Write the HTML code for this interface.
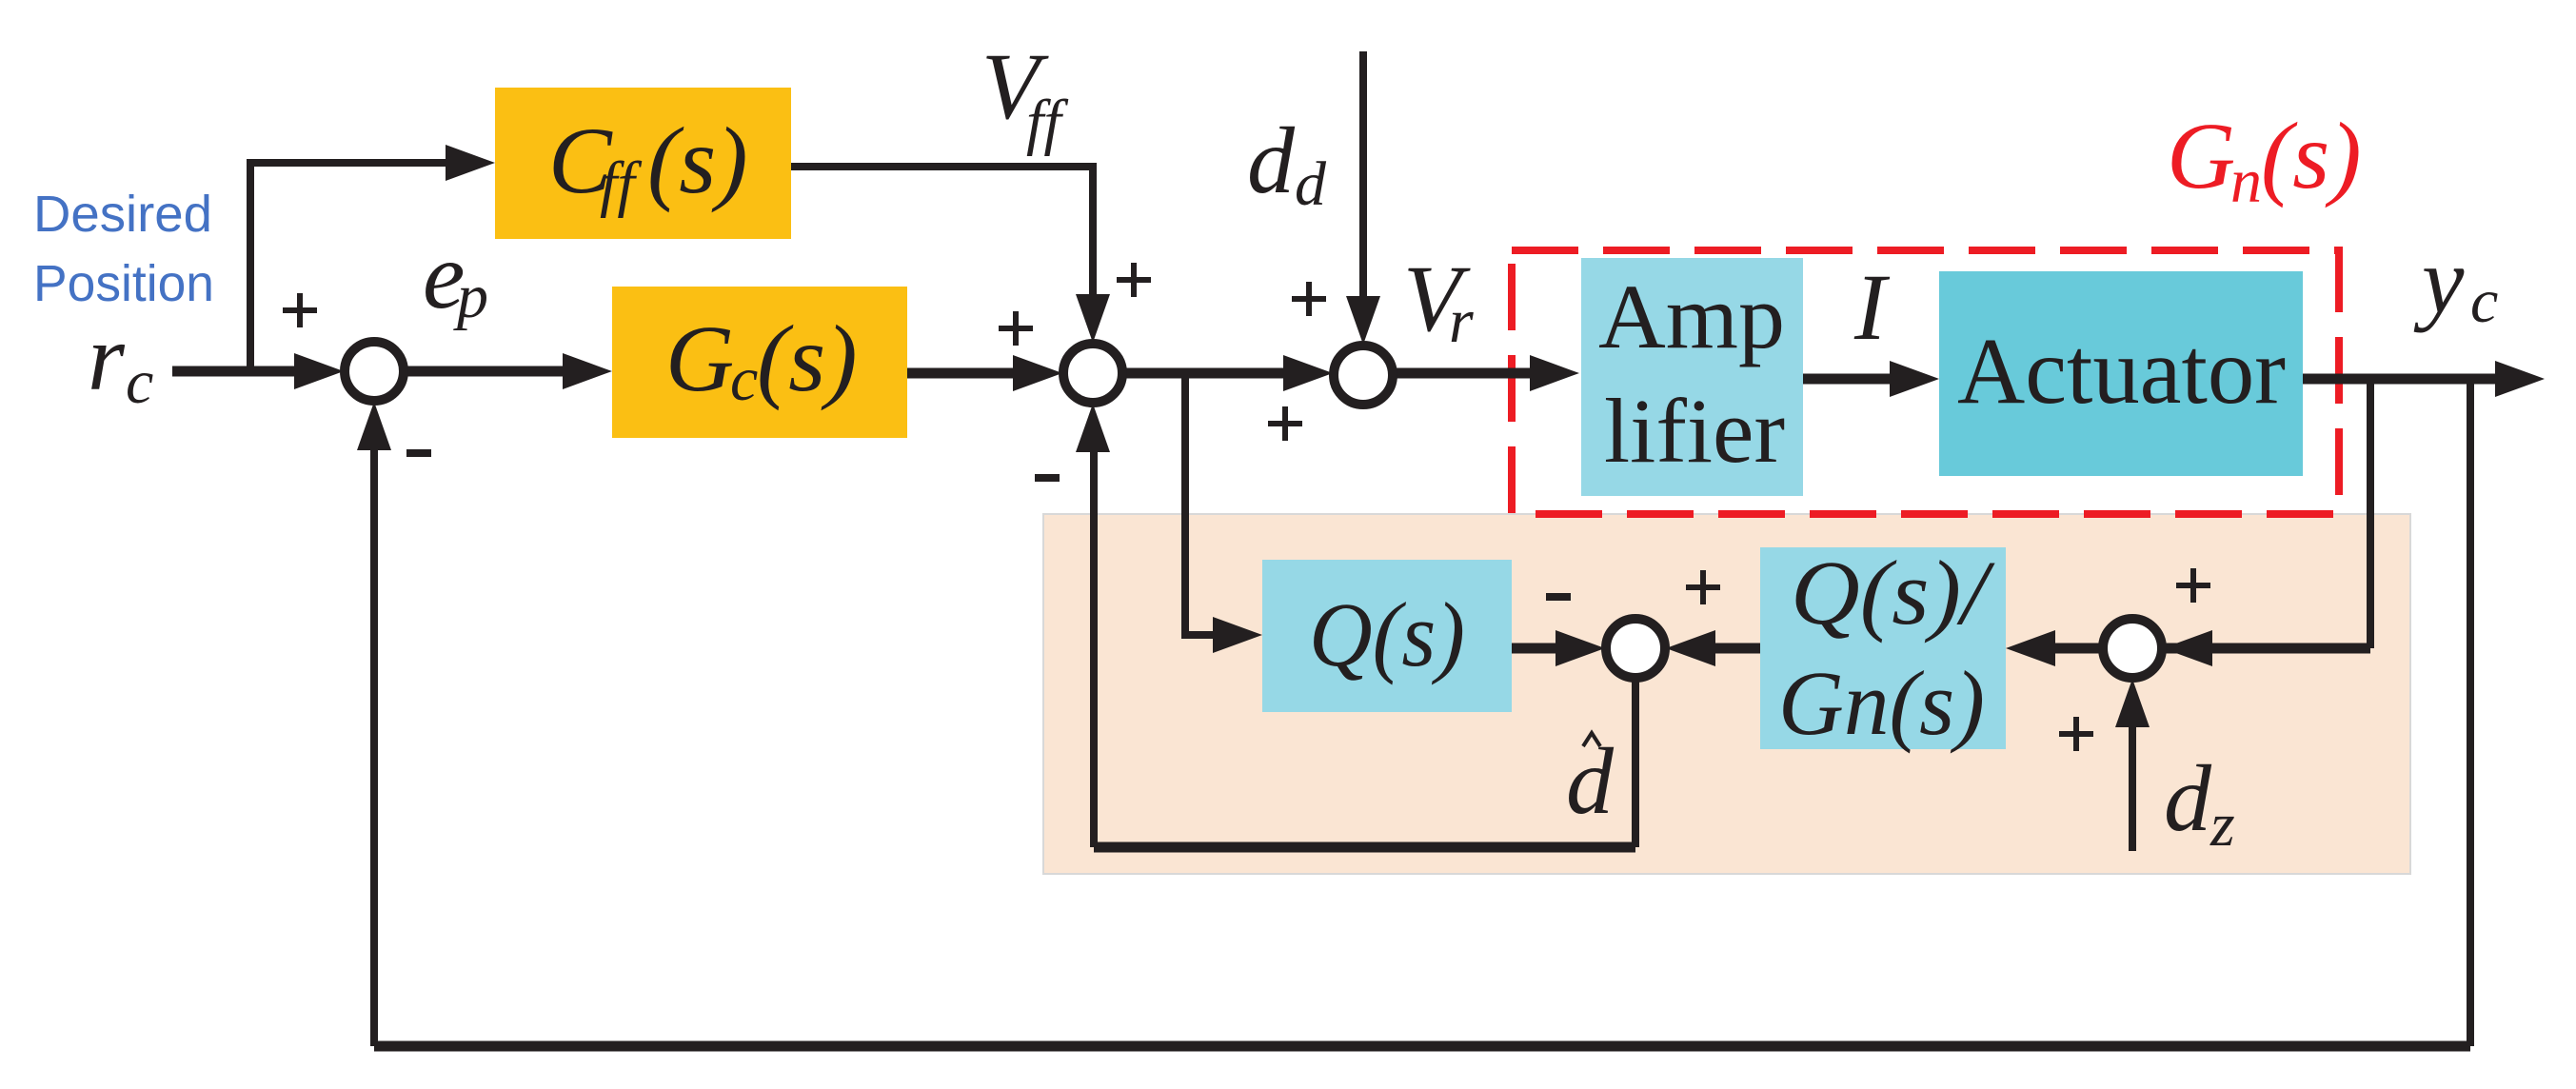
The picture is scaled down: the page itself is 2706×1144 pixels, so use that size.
<!DOCTYPE html>
<html><head><meta charset="utf-8"><style>
html,body{margin:0;padding:0;background:#fff;}
svg{display:block;}
.m{font-family:"Liberation Serif",serif;font-style:italic;fill:#231f20;}
.r{font-family:"Liberation Serif",serif;fill:#231f20;}
</style></head><body>
<svg width="2706" height="1144" viewBox="0 0 2706 1144" xmlns="http://www.w3.org/2000/svg">
<rect x="1096" y="540" width="1436" height="378" fill="#fae5d3" stroke="#d8d8d8" stroke-width="2"/>
<rect x="520" y="92" width="311" height="159" fill="#fbbf13"/>
<rect x="643" y="301" width="310" height="159" fill="#fbbf13"/>
<rect x="1661" y="271" width="233" height="250" fill="#96d8e6"/>
<rect x="2037" y="285" width="382" height="215" fill="#68cada"/>
<rect x="1326" y="588" width="262" height="160" fill="#96d8e6"/>
<rect x="1849" y="575" width="258" height="212" fill="#96d8e6"/>
<rect x="1588" y="263" width="869" height="277" fill="none" stroke="#ed1c24" stroke-width="8" stroke-dasharray="70,26"/>
<g fill="none" stroke="#231f20" stroke-linejoin="miter">
<g stroke-width="11">
<path d="M181 390H320"/><path d="M425 390H600"/><path d="M953 392H1080"/><path d="M1180 392H1360"/>
<path d="M1464 392H1620"/><path d="M1894 398H2000"/><path d="M2419 398H2640"/>
<path d="M2490 681H2235"/><path d="M2208 681H2140"/><path d="M1849 681H1790"/><path d="M1588 681H1650"/>
<path d="M1718 890H1149"/><path d="M2595 1099H393"/>
</g>
<g stroke-width="8">
<path d="M263 390V171H480"/><path d="M831 175H1148V320"/><path d="M1432 54V320"/>
<path d="M2595 398V1099"/><path d="M393 1099V460"/><path d="M2490 398V681"/><path d="M2240 894V750"/>
<path d="M1245 392V667H1290"/><path d="M1718 713V890"/><path d="M1149 890V460"/>
</g>
</g>
<g fill="#231f20">
<polygon points="361,390 309,371 309,409"/>
<polygon points="520,171 468,152 468,190"/>
<polygon points="643,390 591,371 591,409"/>
<polygon points="1116,392 1064,373 1064,411"/>
<polygon points="1148,360 1130,309 1166,309"/>
<polygon points="1400,392 1348,373 1348,411"/>
<polygon points="1432,362 1414,311 1450,311"/>
<polygon points="1659,392 1607,373 1607,411"/>
<polygon points="2037,398 1985,379 1985,417"/>
<polygon points="2673,398 2621,379 2621,417"/>
<polygon points="393,422 375,473 411,473"/>
<polygon points="1148,424 1130,475 1166,475"/>
<polygon points="2272,681 2324,662 2324,700"/>
<polygon points="2240,713 2222,764 2258,764"/>
<polygon points="2107,681 2159,662 2159,700"/>
<polygon points="1750,681 1802,662 1802,700"/>
<polygon points="1686,681 1634,662 1634,700"/>
<polygon points="1326,667 1274,648 1274,686"/>
</g>
<g fill="#fff" stroke="#231f20" stroke-width="10">
<circle cx="393" cy="390" r="31"/><circle cx="1148" cy="392" r="31"/><circle cx="1432" cy="394" r="31"/>
<circle cx="1718" cy="681" r="31"/><circle cx="2240" cy="681" r="31"/>
</g>
<g stroke="#231f20" stroke-width="6">
<path d="M315 308v36M297 326h36"/>
<path d="M1191 276v36M1173 294h36"/>
<path d="M1067 327v36M1049 345h36"/>
<path d="M1375 296v36M1357 314h36"/>
<path d="M1350 427v36M1332 445h36"/>
<path d="M1789 599v36M1771 617h36"/>
<path d="M2304 597v36M2286 615h36"/>
<path d="M2181 753v36M2163 771h36"/>
</g>
<g fill="#231f20">
<rect x="427" y="472" width="26" height="8"/><rect x="1087" y="498" width="26" height="8"/><rect x="1624" y="623" width="26" height="8"/>
</g>
<text x="35" y="243" font-family="Liberation Sans,sans-serif" font-size="54" fill="#4472c4" textLength="188" lengthAdjust="spacingAndGlyphs">Desired</text>
<text x="35" y="316" font-family="Liberation Sans,sans-serif" font-size="54" fill="#4472c4" textLength="190" lengthAdjust="spacingAndGlyphs">Position</text>
<text class="m" x="92" y="409" font-size="100">r</text><text class="m" x="132" y="423" font-size="66">c</text>
<text class="m" x="444" y="323" font-size="100">e</text><text class="m" x="480" y="333" font-size="66">p</text>
<text class="m" x="576" y="202" font-size="100">C</text><text class="m" x="630" y="215" font-size="66">ff</text><text class="m" x="680" y="202" font-size="100">(s)</text>
<text class="m" x="699" y="410" font-size="100">G</text><text class="m" x="767" y="420" font-size="66">c</text><text class="m" x="795" y="410" font-size="100">(s)</text>
<text class="m" x="1031" y="124" font-size="100">V</text><text class="m" x="1078" y="150" font-size="66">ff</text>
<text class="m" x="1310" y="202" font-size="100">d</text><text class="m" x="1360" y="215" font-size="66">d</text>
<text class="m" x="1474" y="347" font-size="100">V</text><text class="m" x="1522" y="359" font-size="66">r</text>
<text class="m" x="1948" y="356" font-size="100">I</text>
<text class="m" x="2544" y="328" font-size="100">y</text><text class="m" x="2595" y="338" font-size="66">c</text>
<g fill="#ed1c24" font-family="Liberation Serif,serif" font-style="italic">
<text x="2276" y="197" font-size="100">G</text><text x="2343" y="212" font-size="66">n</text><text x="2375" y="197" font-size="100">(s)</text>
</g>
<text class="r" x="1679" y="365" font-size="96" textLength="196" lengthAdjust="spacingAndGlyphs">Amp</text>
<text class="r" x="1685" y="485" font-size="96" textLength="190" lengthAdjust="spacingAndGlyphs">lifier</text>
<text class="r" x="2056" y="423" font-size="100" textLength="345" lengthAdjust="spacingAndGlyphs">Actuator</text>
<text class="m" x="1375" y="699" font-size="96" textLength="164" lengthAdjust="spacingAndGlyphs">Q(s)</text>
<text class="m" x="1881" y="655" font-size="96" textLength="207" lengthAdjust="spacingAndGlyphs">Q(s)/</text>
<text class="m" x="1868" y="771" font-size="96" textLength="217" lengthAdjust="spacingAndGlyphs">Gn(s)</text>
<text class="m" x="2273" y="872" font-size="100">d</text><text class="m" x="2322" y="888" font-size="66">z</text>
<text class="m" x="1645" y="854" font-size="100">d</text>
<path d="M1663 784l9-14 9 14" fill="none" stroke="#231f20" stroke-width="4"/>
</svg>
</body></html>
